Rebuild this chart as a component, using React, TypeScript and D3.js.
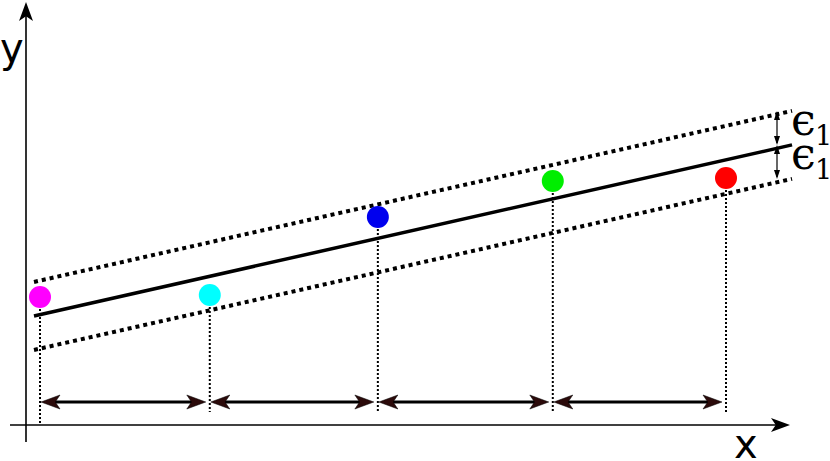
import React from "react";
import * as d3 from "d3";

// data
const pointX = [0, 0.99, 1.97, 2.99, 4.0];
const pointY = [128, 130, 208, 244, 247];
const pointColors = ["#ff00ff", "#00ffff", "#0000ee", "#00ee00", "#ff0000"];
const lineX = [-0.035, 4.385];
const lineIntercept = 110.4;
const lineSlope = 38.7;
const epsilon = 34;
const labels = ["x", "y", "ϵ", "1"];

const W = 830;
const H = 461;

export default function App() {
  const xScale = d3.scaleLinear().domain([0, 4]).range([40, 726]);
  const yScale = d3.scaleLinear().domain([0, 400]).range([425, 25]);
  const f = (x: number, off: number) => lineIntercept + lineSlope * x + off;

  const seg = (off: number) =>
    d3.line<number>().x((d) => xScale(d)).y((d) => yScale(f(d, off)))(lineX) as string;

  const arrowY = 402;
  const headL = 19;
  const headW = 7;
  const head = (tx: number, ty: number, dir: "l" | "r" | "u") => {
    if (dir === "r")
      return `M${tx},${ty} L${tx - headL},${ty - headW} L${tx - headL * 0.75},${ty} L${tx - headL},${ty + headW} Z`;
    if (dir === "l")
      return `M${tx},${ty} L${tx + headL},${ty - headW} L${tx + headL * 0.75},${ty} L${tx + headL},${ty + headW} Z`;
    return `M${tx},${ty} L${tx - headW},${ty + headL} L${tx},${ty + headL * 0.75} L${tx + headW},${ty + headL} Z`;
  };

  const epsX = 777;
  const xEnd = lineX[1];
  const yMid = yScale(f(xEnd, 0));
  const yTop = yScale(f(xEnd, epsilon));
  const yBot = yScale(f(xEnd, -epsilon));

  const epsLabel = (baseY: number, key: string) => (
    <text key={key} x={791} y={baseY} fontFamily="DejaVu Serif">
      <tspan fontSize={44}>{labels[2]}</tspan>
      <tspan x={815} dy={10} fontSize={27}>{labels[3]}</tspan>
    </text>
  );

  return (
    <svg width={W} height={H} style={{ position: "absolute", left: 0, top: 0, background: "#fff" }}>
      {/* axes */}
      <line x1={26} y1={442} x2={26} y2={12} stroke="#000" strokeWidth={1.6} />
      <path d={head(26, 2, "u")} fill="#000" />
      <line x1={10} y1={425} x2={780} y2={425} stroke="#000" strokeWidth={1.6} />
      <path d={head(790, 425, "r")} fill="#000" />
      <text x={0} y={62} fontFamily="DejaVu Sans" fontSize={40}>{labels[1]}</text>
      <text x={734} y={458} fontFamily="DejaVu Sans" fontSize={40}>{labels[0]}</text>

      {/* vertical dotted drops */}
      {pointX.map((px, i) => (
        <line
          key={"v" + i}
          x1={xScale(px)}
          x2={xScale(px)}
          y1={yScale(pointY[i])}
          y2={i === 0 ? 423 : 412}
          stroke="#000"
          strokeWidth={2}
          strokeDasharray="2,2"
        />
      ))}

      {/* lines */}
      <path d={seg(epsilon)} stroke="#000" strokeWidth={4} fill="none" strokeDasharray="4,4" />
      <path d={seg(-epsilon)} stroke="#000" strokeWidth={4} fill="none" strokeDasharray="4,4" />
      <path d={seg(0)} stroke="#000" strokeWidth={3.5} fill="none" />

      {/* points */}
      {pointX.map((px, i) => (
        <circle key={"p" + i} cx={xScale(px)} cy={yScale(pointY[i])} r={11} fill={pointColors[i]} />
      ))}

      {/* spacing arrows */}
      {pointX.slice(0, -1).map((px, i) => {
        const a = xScale(px) + 1;
        const b = xScale(pointX[i + 1]) - 4;
        return (
          <g key={"a" + i}>
            <line x1={a + 10} x2={b - 10} y1={arrowY} y2={arrowY} stroke="#000" strokeWidth={3} />
            <path d={head(a, arrowY, "l")} fill="#2b0a0a" stroke="#000" strokeWidth={0.5} />
            <path d={head(b, arrowY, "r")} fill="#2b0a0a" stroke="#000" strokeWidth={0.5} />
          </g>
        );
      })}

      {/* epsilon arrows */}
      <line x1={epsX} x2={epsX} y1={yTop + 2} y2={yMid - 2} stroke="#000" strokeWidth={1.2} />
      <line x1={epsX} x2={epsX} y1={yMid + 2} y2={yBot - 2} stroke="#000" strokeWidth={1.2} />
      <path d={`M${epsX},${yTop} l-3,9 l6,0 Z`} fill="#000" />
      <path d={`M${epsX},${yMid} l-3,-9 l6,0 Z`} fill="#000" />
      <path d={`M${epsX},${yMid} l-3,9 l6,0 Z`} fill="#000" />
      <path d={`M${epsX},${yBot} l-3,-9 l6,0 Z`} fill="#000" />
      {epsLabel(135, "e1")}
      {epsLabel(169, "e2")}
    </svg>
  );
}
